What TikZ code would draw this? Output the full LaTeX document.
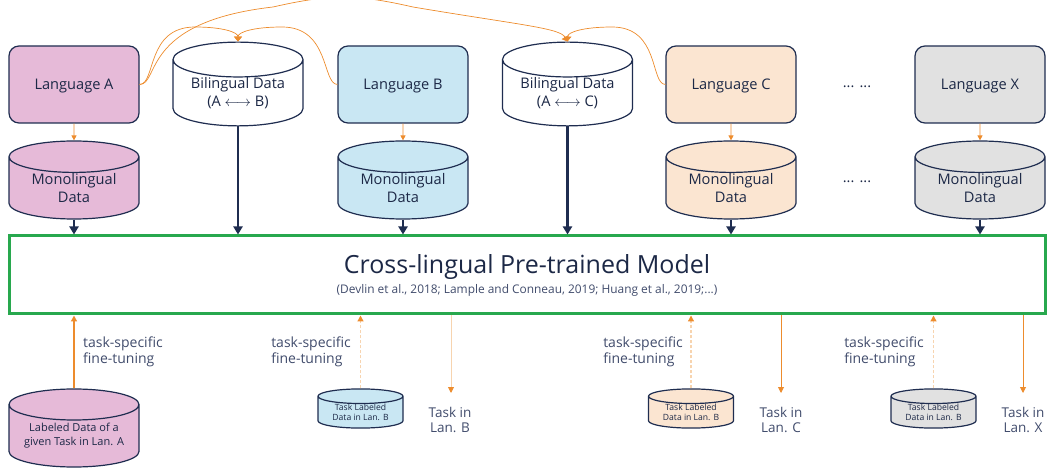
\documentclass[tikz,border=0pt]{standalone}
\usepackage{fontspec}
\setmainfont{Open Sans}
\usetikzlibrary{shapes.geometric,arrows.meta}
\definecolor{navy}{RGB}{31,45,80}
\definecolor{ink}{RGB}{28,40,70}
\definecolor{soft}{RGB}{65,76,108}
\definecolor{pinkA}{RGB}{230,186,216}
\definecolor{blueB}{RGB}{201,231,243}
\definecolor{peachC}{RGB}{251,229,209}
\definecolor{greyX}{RGB}{225,225,225}
\definecolor{modelgreen}{RGB}{40,168,78}
\definecolor{orng}{RGB}{237,140,45}
\definecolor{paleorng}{RGB}{247,212,175}
\begin{document}
\begin{tikzpicture}[x=1pt,y=-1pt,
  every node/.style={text=ink, align=center, inner sep=0pt},
  langbox/.style={draw=navy, line width=1.2pt, rounded corners=10pt,
    minimum width=130pt, minimum height=77pt, text depth=0pt,
    font=\fontsize{14.6}{17.5}\selectfont},
  drum/.style={cylinder, shape border rotate=90, draw=navy, line width=1.2pt,
    font=\fontsize{14.6}{17.5}\selectfont},
  bigdrum/.style={drum, minimum width=130pt, minimum height=78pt, aspect=0.37},
  smalldrum/.style={drum, minimum width=85pt, minimum height=38pt, aspect=0.26,
    font=\fontsize{8.6}{10}\selectfont},
  feed/.style={draw=navy, line width=2.5pt, -{Triangle[length=8pt,width=9pt]}},
  link/.style={draw=orng, line width=0.8pt, -{Triangle[length=5pt,width=5pt]}},
  pair/.style={draw=orng, line width=0.7pt, -{Triangle[length=5pt,width=8pt]}},
  tune/.style={draw=orng, line width=2pt, -{Triangle[length=6pt,width=6pt]}},
  tunedash/.style={draw=paleorng, line width=1.3pt, dash pattern=on 3pt off 2pt,
    -{Triangle[length=6pt,width=6pt,color=orng]}},
  taskout/.style={draw=orng, line width=0.9pt, -{Triangle[length=6pt,width=6pt]}},
  note/.style={text=soft, font=\fontsize{14}{16.5}\selectfont},
  outnote/.style={text=soft, font=\fontsize{13.5}{15.5}\selectfont},
]
\useasboundingbox (0,0) rectangle (1047,470);
\clip (0,0) rectangle (1047,470);

% language boxes and bilingual corpora
\node[langbox, fill=pinkA]  (langA) at (74,84.5)  {Language A};
\node[bigdrum, fill=white, anchor=shape center] (biAB) at (238,84) {Bilingual Data\\(A $\longleftrightarrow$ B)};
\node[langbox, fill=blueB]  (langB) at (403,84.5) {Language B};
\node[bigdrum, fill=white, anchor=shape center] (biAC) at (567.5,84) {Bilingual Data\\(A $\longleftrightarrow$ C)};
\node[langbox, fill=peachC] (langC) at (731,84.5) {Language C};
\node[font=\fontsize{14.6}{17.5}\selectfont] (dotsL) at (857,87) {... ...};
\node[langbox, fill=greyX]  (langX) at (980,84.5) {Language X};

% monolingual corpora
\node[bigdrum, fill=pinkA,  anchor=shape center] (monoA) at (74,180)  {Monolingual\\Data};
\node[bigdrum, fill=blueB,  anchor=shape center] (monoB) at (403,180) {Monolingual\\Data};
\node[bigdrum, fill=peachC, anchor=shape center] (monoC) at (731,180) {Monolingual\\Data};
\node[font=\fontsize{14.6}{17.5}\selectfont] (dotsM) at (857,182) {... ...};
\node[bigdrum, fill=greyX,  anchor=shape center] (monoX) at (980,180) {Monolingual\\Data};

% the pre-trained model
\node[draw=modelgreen, line width=3pt, minimum width=1036pt, minimum height=78pt] (model) at (527,275) {};
\node[font=\fontsize{25}{28}\selectfont] (title) at (527,267) {Cross-lingual Pre-trained Model};
\node[text=soft, font=\fontsize{11.9}{13}\selectfont] (cite) at (527,290)
  {(Devlin et al., 2018; Lample and Conneau, 2019; Huang et al., 2019;...)};

% language to monolingual data
\foreach \l in {A,B,C,X} {
  \draw[link] (lang\l.south) -- (mono\l.north);
  \draw[feed] (mono\l.south) -- (mono\l.south |- model.north);
}
\draw[feed] (biAB.south) -- (biAB.south |- model.north);
\draw[feed] (biAC.south) -- (biAC.south |- model.north);

% languages feeding the bilingual corpora
\draw[pair] (langA.east) .. controls (156,84) and (146,27) .. (195,27)
  .. controls (222,27) and (238,32) .. (biAB.north);
\draw[pair] (langB.west) .. controls (322,84) and (330,27) .. (282,27)
  .. controls (254,27) and (238,32) .. (biAB.north);
\draw[pair] (langA.east) .. controls (160,84) and (140,22) .. (273,7)
  .. controls (330,-6) and (356,-6) .. (413,7)
  .. controls (520,25) and (560,28) .. (biAC.north);
\draw[pair] (langC.west) .. controls (650,84) and (660,27) .. (612,27)
  .. controls (584,27) and (567.5,32) .. (biAC.north);

% fine-tuning data
\node[bigdrum, fill=pinkA, aspect=0.31, font=\fontsize{11}{14}\selectfont, anchor=shape center]
  (labA) at (74,428) {Labeled Data of a\\given Task in Lan. A};
\node[smalldrum, fill=blueB,  anchor=shape center] (tB) at (360.5,408.5) {Task Labeled\\Data in Lan. B};
\node[smalldrum, fill=peachC, anchor=shape center] (tC) at (691,408.5)   {Task Labeled\\Data in Lan. B};
\node[smalldrum, fill=greyX,  anchor=shape center] (tX) at (933.5,408.5) {Task Labeled\\Data in Lan. B};

\draw[tune] (labA.north) -- (labA.north |- model.south);
\draw[tunedash] (tB.north) -- (tB.north |- model.south);
\draw[tunedash] (tC.north) -- (tC.north |- model.south);
\draw[tunedash] (tX.north) -- (tX.north |- model.south);

\node[note, align=left, anchor=west] (ftA) at (83,352) {task-specific\\fine-tuning};
\node[note, align=left, anchor=east] (ftB) at (351,352) {task-specific\\fine-tuning};
\node[note, align=left, anchor=east] (ftC) at (683,352) {task-specific\\fine-tuning};
\node[note, align=left, anchor=east] (ftX) at (924,352) {task-specific\\fine-tuning};

% task outputs
\coordinate (endB) at (451,393);
\coordinate (endC) at (781,393);
\coordinate (endX) at (1023,393);
\draw[taskout, draw=paleorng, -{Triangle[length=6pt,width=6pt,color=orng]}] (endB |- model.south) -- (endB);
\draw[taskout] (endC |- model.south) -- (endC);
\draw[taskout] (endX |- model.south) -- (endX);
\node[outnote] (outB) at (450,420) {Task in\\Lan. B};
\node[outnote] (outC) at (781,420) {Task in\\Lan. C};
\node[outnote] (outX) at (1023,420) {Task in\\Lan. X};
\end{tikzpicture}
\end{document}
